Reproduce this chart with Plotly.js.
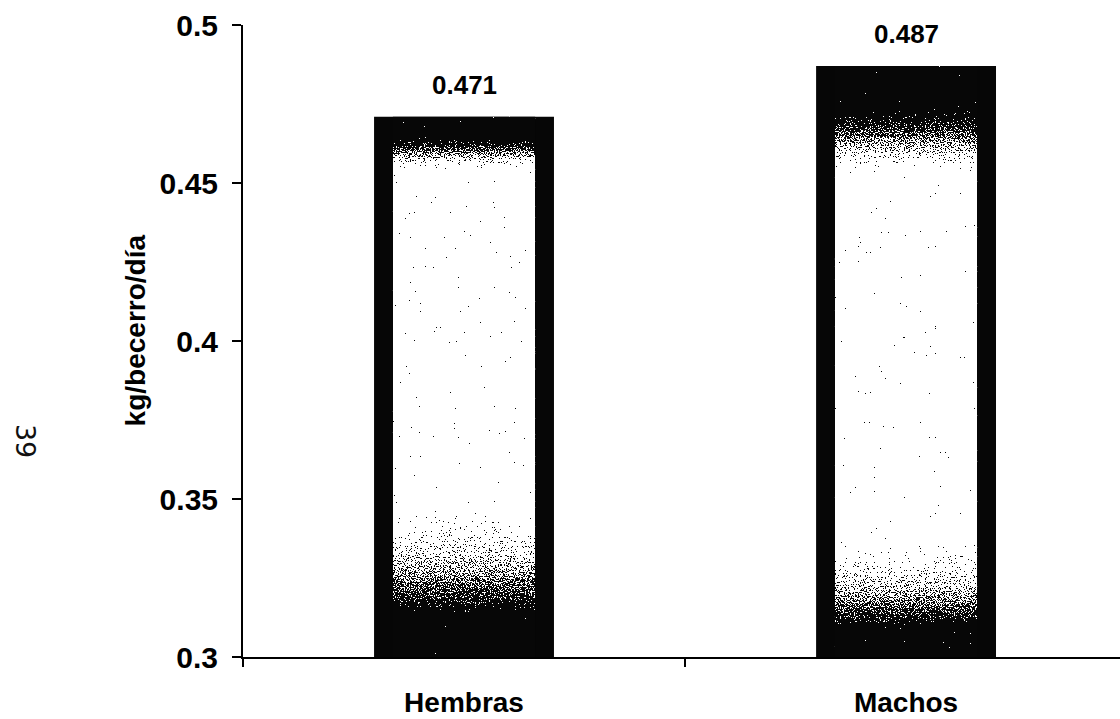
<!DOCTYPE html>
<html>
<head>
<meta charset="utf-8">
<script src="https://cdn.plot.ly/plotly-3.0.1.min.js"></script>
<style>
  html, body { margin: 0; padding: 0; background: #ffffff; }
  #chart { width: 1120px; height: 719px; }
</style>
</head>
<body>
<!-- shading and grain used for the inner face of each bar -->
<svg width="0" height="0" style="position:absolute">
  <defs>
    <linearGradient id="shade0" x1="0" y1="0" x2="0" y2="1">
      <stop offset="0" stop-color="#000"/>
      <stop offset="0.035" stop-color="#000"/>
      <stop offset="0.065" stop-color="#777"/>
      <stop offset="0.10" stop-color="#fff"/>
      <stop offset="0.72" stop-color="#fff"/>
      <stop offset="0.82" stop-color="#aaa"/>
      <stop offset="0.90" stop-color="#444"/>
      <stop offset="0.925" stop-color="#000"/>
      <stop offset="1" stop-color="#000"/>
    </linearGradient>
    <linearGradient id="shade1" x1="0" y1="0" x2="0" y2="1">
      <stop offset="0" stop-color="#000"/>
      <stop offset="0.065" stop-color="#000"/>
      <stop offset="0.12" stop-color="#777"/>
      <stop offset="0.18" stop-color="#fff"/>
      <stop offset="0.80" stop-color="#fff"/>
      <stop offset="0.88" stop-color="#aaa"/>
      <stop offset="0.935" stop-color="#444"/>
      <stop offset="0.955" stop-color="#000"/>
      <stop offset="1" stop-color="#000"/>
    </linearGradient>
    <filter id="grain" x="0" y="0" width="1" height="1" color-interpolation-filters="sRGB">
      <feTurbulence type="fractalNoise" baseFrequency="0.8" numOctaves="2" seed="7" result="noise"/>
      <feColorMatrix in="noise" type="matrix"
        values="1 0 0 0 0  1 0 0 0 0  1 0 0 0 0  0 0 0 0 1" result="gray"/>
      <feComposite in="SourceGraphic" in2="gray" operator="arithmetic"
        k1="0" k2="1" k3="1.6" k4="-0.8" result="mix"/>
      <feComponentTransfer in="mix" result="bw">
        <feFuncR type="discrete" tableValues="0.03 1"/>
        <feFuncG type="discrete" tableValues="0.03 1"/>
        <feFuncB type="discrete" tableValues="0.03 1"/>
      </feComponentTransfer>
      <feComposite in="bw" in2="SourceAlpha" operator="in"/>
    </filter>
  </defs>
</svg>
<div id="chart"></div>
<script>
// Daily weight gain per calf, by sex
const categories = ['Hembras', 'Machos'];
const gainKg = [0.471, 0.487];
const yTitle = 'kg/becerro/día';
const pageMark = '39';

const axisFloor = 0.3;
const font = 'Liberation Sans, Arial, Helvetica, sans-serif';

const barHeights = gainKg.map(v => v - axisFloor);
const bases = gainKg.map(() => axisFloor);

const outerBars = {
  type: 'bar',
  x: categories,
  y: barHeights,
  base: bases,
  width: 0.407,
  marker: { color: '#060606', line: { width: 0 } },
  hoverinfo: 'skip'
};

const innerBars = {
  type: 'bar',
  x: categories,
  y: barHeights,
  base: bases,
  width: 0.322,
  marker: { color: '#ffffff', line: { width: 0 } },
  hoverinfo: 'skip'
};

const valueLabels = categories.map((c, i) => ({
  x: c,
  y: gainKg[i],
  xref: 'x',
  yref: 'y',
  text: gainKg[i].toFixed(3),
  showarrow: false,
  yanchor: 'bottom',
  yshift: 15,
  font: { family: font, size: 26, weight: 700, color: '#000' }
}));

const layout = {
  width: 1120,
  height: 719,
  margin: { l: 243, r: 0, t: 25, b: 62 },
  paper_bgcolor: '#ffffff',
  plot_bgcolor: '#ffffff',
  barmode: 'overlay',
  showlegend: false,
  xaxis: {
    type: 'category',
    range: [-0.5, 1.484],
    showline: true,
    linecolor: '#000',
    linewidth: 2,
    ticks: 'outside',
    tickson: 'boundaries',
    ticklen: 8,
    tickwidth: 2,
    tickcolor: '#000',
    showgrid: false,
    zeroline: false,
    ticklabelstandoff: 19,
    tickfont: { family: font, size: 28, weight: 700, color: '#000' }
  },
  yaxis: {
    range: [0.3, 0.5],
    tick0: 0.3,
    dtick: 0.05,
    showline: true,
    linecolor: '#000',
    linewidth: 2,
    ticks: 'outside',
    ticklen: 9,
    tickwidth: 2,
    tickcolor: '#000',
    showgrid: false,
    zeroline: false,
    ticklabelstandoff: 8,
    tickfont: { family: font, size: 30, weight: 700, color: '#000' }
  },
  annotations: valueLabels.concat([
    {
      xref: 'paper', yref: 'paper',
      x: -0.123, y: 0.517,
      xanchor: 'center', yanchor: 'middle',
      text: yTitle,
      textangle: -90,
      showarrow: false,
      font: { family: font, size: 28, weight: 700, color: '#000' }
    },
    {
      xref: 'paper', yref: 'paper',
      x: -0.2486, y: 0.342,
      xanchor: 'center', yanchor: 'middle',
      text: pageMark,
      textangle: 90,
      showarrow: false,
      font: { family: 'DejaVu Sans, sans-serif', size: 27, color: '#111' }
    }
  ])
};

Plotly.newPlot('chart', [outerBars, innerBars], layout, { staticPlot: true, displayModeBar: false })
  .then(gd => {
    const traces = gd.querySelectorAll('.barlayer .trace');
    if (traces.length > 1) {
      traces[1].querySelectorAll('path').forEach((p, i) => {
        p.style.fill = 'url(#shade' + i + ')';
        p.setAttribute('filter', 'url(#grain)');
      });
    }
  });
</script>
</body>
</html>
